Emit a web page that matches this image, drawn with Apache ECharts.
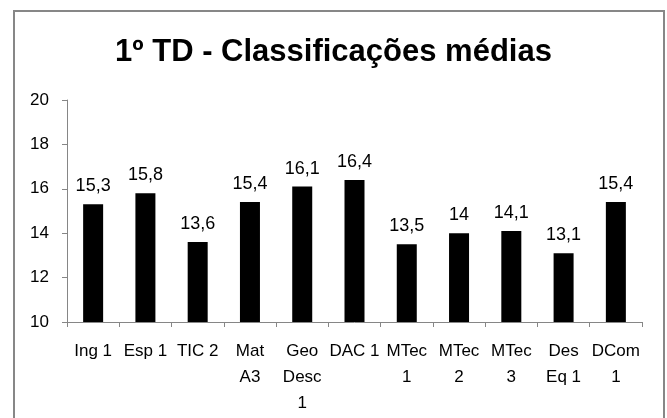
<!DOCTYPE html>
<html>
<head>
<meta charset="utf-8">
<script src="https://cdn.jsdelivr.net/npm/echarts@6/dist/echarts.min.js"></script>
<style>
  html, body { margin: 0; padding: 0; background: #fff; }
  #grafico { width: 667px; height: 418px; }
</style>
</head>
<body>
<div id="grafico"></div>
<script>
// disciplinas e médias
var disciplinas = ['Ing 1', 'Esp 1', 'TIC 2', 'Mat\nA3', 'Geo\nDesc\n1', 'DAC 1', 'MTec\n1', 'MTec\n2', 'MTec\n3', 'Des\nEq 1', 'DCom\n1'];
var medias = [15.3, 15.8, 13.6, 15.4, 16.1, 16.4, 13.5, 14, 14.1, 13.1, 15.4];
var eixoY = { min: 10, max: 20, intervalo: 2 };

var fonte = "'Liberation Sans', sans-serif";

var grafico = echarts.init(document.getElementById('grafico'));
var opcao = {
    animation: false,
    title: {
        text: '1º TD - Classificações médias',
        left: 'center',
        top: 32,
        textStyle: {
            fontFamily: fonte,
            fontSize: 31,
            fontWeight: 'bold',
            color: '#000'
        }
    },
    graphic: [{
        type: 'rect',
        shape: { x: 14, y: 11, width: 650, height: 420 },
        style: { fill: 'none', stroke: '#878787', lineWidth: 2 }
    }],
    grid: {
        left: 67,
        right: 25,
        top: 100,
        bottom: 96
    },
    xAxis: {
        type: 'category',
        data: disciplinas,
        axisLine: { lineStyle: { color: '#868686' } },
        axisTick: { show: true, alignWithLabel: false, length: 5, lineStyle: { color: '#868686' } },
        axisLabel: {
            interval: 0,
            color: '#000',
            fontFamily: fonte,
            fontSize: 17,
            lineHeight: 26,
            margin: 16
        }
    },
    yAxis: {
        type: 'value',
        min: eixoY.min,
        max: eixoY.max,
        interval: eixoY.intervalo,
        splitLine: { show: false },
        axisLine: { show: true, lineStyle: { color: '#868686' } },
        axisTick: { show: true, length: 5, lineStyle: { color: '#868686' } },
        axisLabel: {
            color: '#000',
            fontFamily: fonte,
            fontSize: 17,
            margin: 18
        }
    },
    series: [{
        type: 'bar',
        data: medias,
        barWidth: 20,
        itemStyle: { color: '#000' },
        label: {
            show: true,
            position: 'top',
            distance: 9,
            color: '#000',
            fontFamily: fonte,
            fontSize: 18,
            formatter: function (p) {
                return String(p.value).replace('.', ',');
            }
        }
    }]
};
grafico.setOption(opcao);
window.addEventListener('resize', function () {
    grafico.resize();
});
</script>
</body>
</html>
